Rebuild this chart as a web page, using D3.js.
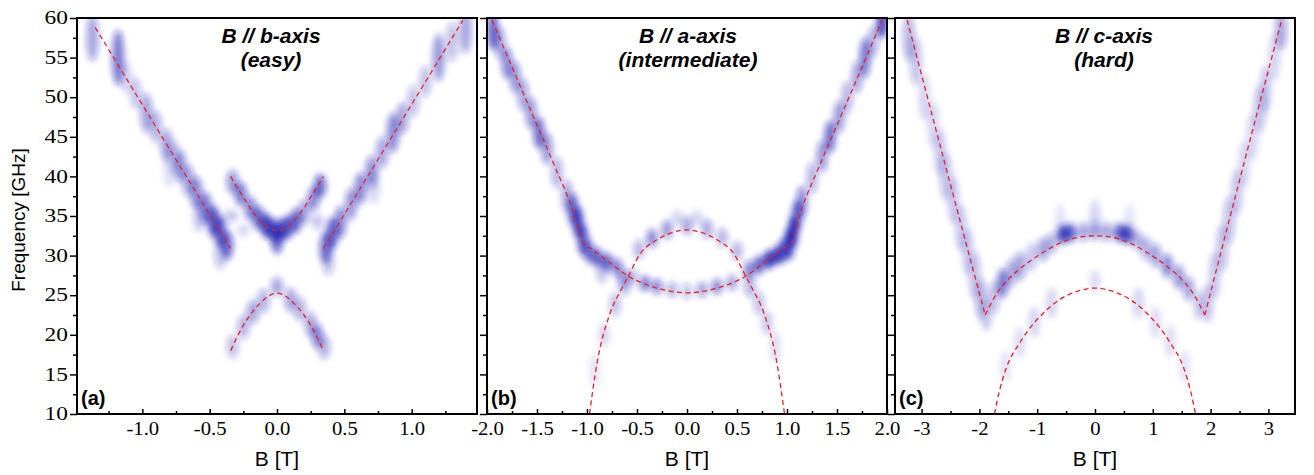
<!DOCTYPE html>
<html>
<head>
<meta charset="utf-8">
<script src="https://cdn.jsdelivr.net/npm/d3@7"></script>
<style>
  body { margin: 0; background: #fff; }
  .tick text { font-family: "Liberation Serif", "Times New Roman", serif; font-size: 18px; fill: #000; }
  .axis path.domain { display: none; }
  .axis line { stroke: #000; stroke-width: 1.5; }
</style>
</head>
<body>
<div id="chart"></div>
<script>
// ---- data ----
var freqMajor = [10, 15, 20, 25, 30, 35, 40, 45, 50, 55, 60];
var freqMinor = [12.5, 17.5, 22.5, 27.5, 32.5, 37.5, 42.5, 47.5, 52.5, 57.5];

var fieldMajorA = [-1.0, -0.5, 0.0, 0.5, 1.0];
var fieldMinorA = [-1.25, -0.75, -0.25, 0.25, 0.75, 1.25];
var fieldMajorB = [-2.0, -1.5, -1.0, -0.5, 0.0, 0.5, 1.0, 1.5, 2.0];
var fieldMinorB = [-1.75, -1.25, -0.75, -0.25, 0.25, 0.75, 1.25, 1.75];
var fieldMajorC = [-3, -2, -1, 0, 1, 2, 3];
var fieldMinorC = [-2.5, -1.5, -0.5, 0.5, 1.5, 2.5];

var panelTitles = ["B // b-axis", "B // a-axis", "B // c-axis"];
var panelSubtitles = ["(easy)", "(intermediate)", "(hard)"];
var panelLetters = ["(a)", "(b)", "(c)"];

// fitted modes, [B (T), f (GHz)]
var modeA_left  = [[-1.35, 58.8], [-0.85, 44.9], [-0.345, 30.9]];
var modeA_right = [[0.345, 30.9], [0.86, 45.2], [1.38, 59.7]];
var modeA_upper = [[-0.344, 40.0], [-0.3, 38.7], [-0.25, 37.4], [-0.2, 36.0], [-0.13, 34.5], [-0.07, 33.6], [0, 33.2],
                   [0.07, 33.6], [0.13, 34.5], [0.2, 36.0], [0.25, 37.4], [0.3, 38.7], [0.344, 40.0]];
var modeA_lower = [[-0.344, 18.0], [-0.3, 19.6], [-0.25, 21.2], [-0.2, 22.5], [-0.13, 23.9], [-0.07, 24.8], [0, 25.25],
                   [0.07, 24.8], [0.13, 23.9], [0.2, 22.5], [0.25, 21.2], [0.3, 19.6], [0.344, 18.0]];

var modeB_outer = [[-1.95, 59.7], [-1.6, 49.4], [-1.33, 41.5], [-1.15, 36.0], [-1.04, 31.6], [-0.95, 30.8], [-0.8, 29.4],
                   [-0.587, 27.4], [-0.3, 25.9], [0, 25.3], [0.3, 25.9], [0.587, 27.4], [0.8, 29.4], [0.95, 30.8],
                   [1.04, 31.6], [1.15, 36.0], [1.33, 41.5], [1.6, 49.4], [1.95, 59.7]];
var modeB_inner = [[-0.975, 10.0], [-0.9, 16.4], [-0.77, 22.7], [-0.65, 25.9], [-0.587, 27.4], [-0.47, 30.2], [-0.3, 32.0],
                   [-0.15, 32.9], [0, 33.25], [0.15, 32.9], [0.3, 32.0], [0.47, 30.2], [0.587, 27.4], [0.65, 25.9],
                   [0.77, 22.7], [0.9, 16.4], [0.975, 10.0]];

var modeC_left  = [[-3.25, 59.75], [-2.52, 39.5], [-1.9, 22.5]];
var modeC_right = [[1.9, 22.5], [2.5, 39.5], [3.23, 59.75]];
var modeC_upper = [[-1.9, 22.5], [-1.7, 25.2], [-1.5, 27.0], [-1.2, 28.9], [-0.9, 30.4], [-0.6, 31.6], [-0.3, 32.3], [0, 32.5],
                   [0.3, 32.3], [0.6, 31.6], [0.9, 30.4], [1.2, 28.9], [1.5, 27.0], [1.7, 25.2], [1.9, 22.5]];
var modeC_lower = [[-1.74, 10.0], [-1.65, 13.0], [-1.535, 15.8], [-1.3, 19.0], [-1.1, 21.1], [-0.9, 22.7], [-0.6, 24.5],
                   [-0.3, 25.5], [0, 25.9], [0.3, 25.5], [0.6, 24.5], [0.9, 22.7], [1.1, 21.1], [1.3, 19.0],
                   [1.535, 15.8], [1.65, 13.0], [1.74, 10.0]];

// absorption spots, [B (T), f (GHz), intensity, half linewidth (GHz)]
var spotsA = [
  [-1.37, 57.5, 0.35, 3], [-1.18, 55.0, 0.5, 3.5], [-1.05, 50.5, 0.2, 2], [-0.97, 48.0, 0.35, 2.5], [-0.9, 46.3, 0.3, 2],
  [-0.82, 44.0, 0.35, 2], [-0.72, 41.3, 0.4, 2], [-0.66, 39.5, 0.35, 2], [-0.6, 38.0, 0.45, 2], [-0.53, 36.0, 0.5, 2],
  [-0.47, 34.3, 0.65, 2], [-0.42, 33.0, 0.6, 2], [-0.37, 31.3, 0.55, 1.8], [-0.42, 30.3, 0.25, 2], [-0.58, 35.0, 0.2, 2],
  [-0.8, 41.5, 0.12, 3], [-1.12, 52.5, 0.15, 2], [-0.76, 42.5, 0.2, 2],
  [0.36, 31.0, 0.5, 2], [0.41, 32.8, 0.6, 2], [0.47, 34.2, 0.45, 2], [0.55, 36.5, 0.4, 2], [0.62, 38.5, 0.45, 2],
  [0.7, 40.6, 0.4, 2], [0.78, 43.0, 0.35, 2], [0.86, 45.5, 0.45, 2.5], [0.93, 47.3, 0.35, 2], [1.01, 49.5, 0.25, 2],
  [1.1, 52.0, 0.25, 2], [1.2, 55.0, 0.4, 3], [1.3, 57.0, 0.25, 2.5], [1.4, 58.5, 0.35, 3], [0.38, 29.5, 0.25, 2],
  [0.72, 39.0, 0.15, 2.5],
  [-0.33, 39.3, 0.4, 1.5], [-0.27, 37.8, 0.5, 1.5], [-0.2, 36.0, 0.45, 1.5], [-0.14, 34.8, 0.55, 1.5], [-0.08, 33.8, 0.7, 1.5],
  [-0.03, 33.2, 0.6, 1.5], [0.0, 32.0, 0.55, 1.8], [0.03, 33.2, 0.6, 1.5], [0.08, 33.6, 0.6, 1.5], [0.14, 34.4, 0.55, 1.5],
  [0.2, 35.5, 0.35, 1.5], [0.27, 37.2, 0.45, 1.5], [0.32, 38.8, 0.55, 1.5],
  [-0.34, 35.0, 0.25, 0.8], [0.3, 34.3, 0.2, 1.0], [-0.25, 33.2, 0.15, 0.8],
  [0.0, 26.1, 0.35, 1.2], [-0.33, 18.5, 0.25, 1.5], [-0.25, 21.0, 0.3, 1.5], [-0.18, 22.9, 0.35, 1.5], [-0.1, 24.3, 0.3, 1.5],
  [0.1, 24.4, 0.35, 1.5], [0.17, 23.2, 0.3, 1.5], [0.25, 21.3, 0.35, 1.5], [0.3, 19.8, 0.45, 1.5], [0.35, 18.4, 0.3, 1.5]
];
var spotsB = [
  [-1.94, 58.5, 0.6, 2.5], [-1.87, 56.8, 0.35, 2], [-1.8, 54.3, 0.45, 2], [-1.72, 52.5, 0.4, 2], [-1.64, 50.3, 0.35, 2],
  [-1.56, 48.0, 0.4, 2], [-1.48, 45.5, 0.55, 2], [-1.4, 43.5, 0.4, 2], [-1.3, 40.5, 0.3, 2], [-1.2, 37.5, 0.35, 2],
  [-1.14, 35.8, 0.6, 2], [-1.09, 34.2, 0.7, 2], [-1.04, 32.0, 0.65, 2], [-0.98, 30.5, 0.5, 1.5],
  [-0.9, 29.8, 0.6, 1.2], [-0.8, 29.2, 0.55, 1.2], [-0.7, 28.5, 0.45, 1.2], [-0.55, 27.3, 0.3, 1], [-0.42, 26.5, 0.5, 1],
  [-0.3, 26.1, 0.45, 1], [-0.15, 25.7, 0.3, 1], [0.0, 25.5, 0.25, 1], [0.15, 25.7, 0.35, 1], [0.3, 26.1, 0.45, 1],
  [0.45, 26.6, 0.35, 1], [-0.85, 28.0, 0.25, 1.5], [-0.65, 27.2, 0.2, 1.5],
  [0.62, 28.2, 0.45, 1.2], [0.72, 28.8, 0.6, 1.2], [0.82, 29.5, 0.75, 1.2], [0.9, 30.0, 0.7, 1.2], [0.96, 30.6, 0.6, 1.5],
  [1.02, 31.5, 0.7, 2], [1.06, 33.0, 0.75, 2], [1.1, 35.0, 0.6, 2], [1.15, 36.8, 0.45, 2], [1.25, 39.8, 0.3, 2],
  [1.35, 42.5, 0.4, 2], [1.43, 45.0, 0.55, 2], [1.52, 47.5, 0.4, 2], [1.6, 50.0, 0.3, 2], [1.7, 52.5, 0.35, 2],
  [1.78, 55.0, 0.5, 2.5], [1.86, 57.0, 0.3, 2], [1.95, 59.5, 0.7, 2],
  [0.0, 33.8, 0.35, 1.2], [-0.2, 33.3, 0.4, 1.2], [0.2, 33.4, 0.35, 1.2], [-0.35, 32.2, 0.45, 1.2], [0.35, 32.3, 0.3, 1.2],
  [-0.48, 30.8, 0.3, 1.2], [0.5, 30.6, 0.3, 1.2], [-0.1, 34.8, 0.15, 1], [0.1, 34.8, 0.15, 1],
  [-0.62, 26.5, 0.3, 1.5], [-0.72, 23.8, 0.25, 1.5], [-0.83, 20.0, 0.15, 1.5], [-0.92, 15.5, 0.1, 2],
  [0.63, 26.2, 0.3, 1.5], [0.72, 24.0, 0.25, 1.5], [0.8, 21.5, 0.2, 1.5], [0.88, 18.5, 0.12, 2]
];
var spotsC = [
  [-3.22, 57.5, 0.3, 3], [-3.1, 54.5, 0.25, 3], [-2.95, 50.0, 0.15, 3], [-2.8, 46.5, 0.15, 3], [-2.68, 43.0, 0.2, 3],
  [-2.58, 40.0, 0.25, 3], [-2.45, 37.0, 0.2, 3], [-2.32, 33.5, 0.2, 3], [-2.2, 30.5, 0.2, 3], [-2.08, 27.5, 0.25, 3],
  [-1.97, 24.5, 0.3, 2.5], [-1.88, 22.5, 0.2, 2],
  [-1.75, 24.7, 0.25, 2], [-1.6, 26.5, 0.5, 1.8], [-1.45, 27.8, 0.3, 1.8], [-1.3, 28.7, 0.35, 1.8], [-1.1, 29.8, 0.2, 1.8],
  [-0.9, 30.8, 0.35, 1.5], [-0.75, 31.6, 0.3, 1.3],
  [-0.55, 32.7, 0.7, 1.2], [-0.42, 32.9, 0.6, 1.2], [-0.2, 33.0, 0.35, 1.2], [0.0, 33.1, 0.3, 1.2], [0.2, 33.0, 0.35, 1.2],
  [0.42, 32.9, 0.6, 1.2], [0.55, 32.7, 0.7, 1.2], [0.72, 32.0, 0.3, 1.3],
  [0.0, 34.6, 0.15, 2.5], [-0.6, 34.0, 0.1, 2.5], [0.6, 34.0, 0.1, 2.5],
  [0.88, 30.9, 0.3, 1.5], [1.05, 30.0, 0.35, 1.5], [1.25, 28.7, 0.45, 1.5], [1.45, 27.3, 0.4, 1.5], [1.62, 25.8, 0.35, 1.5],
  [1.8, 23.7, 0.2, 1.8],
  [1.95, 24.0, 0.2, 2.5], [2.07, 27.5, 0.2, 3], [2.2, 31.0, 0.25, 3], [2.32, 34.5, 0.25, 3], [2.45, 38.0, 0.2, 3],
  [2.58, 41.5, 0.15, 3], [2.72, 45.0, 0.15, 3], [2.85, 48.5, 0.25, 3], [2.95, 51.0, 0.2, 3], [3.1, 55.0, 0.15, 3],
  [3.22, 58.5, 0.35, 2.5],
  [0.0, 26.7, 0.12, 1.5], [-0.75, 24.0, 0.15, 2], [0.75, 24.0, 0.15, 2], [-1.05, 21.6, 0.15, 2], [1.05, 21.6, 0.12, 2],
  [-1.3, 19.0, 0.12, 2], [1.3, 19.2, 0.12, 2], [-1.55, 16.0, 0.1, 2], [1.55, 16.0, 0.1, 2]
];

// ---- layout ----
var W = 1314, H = 475;
var plotTop = 18, plotH = 396, plotW = 400;

// plain hyphen for negative tick labels, as in the figure
var fmt1 = function(d) { return d3.format(".1f")(d).replace("\u2212", "-"); };
var fmt0 = function(d) { return d3.format("d")(d).replace("\u2212", "-"); };

var panels = [
  { left: 77,  domain: [-1.485, 1.485], major: fieldMajorA, minor: fieldMinorA, fmt: fmt1,
    spots: spotsA, halfB: 0.045, modes: [modeA_left, modeA_right, modeA_upper, modeA_lower], titleDx: -6 },
  { left: 487, domain: [-2, 2], major: fieldMajorB, minor: fieldMinorB, fmt: fmt1,
    spots: spotsB, halfB: 0.055, modes: [modeB_outer, modeB_inner], titleDx: 1 },
  { left: 895, domain: [-3.46, 3.46], major: fieldMajorC, minor: fieldMinorC, fmt: fmt0,
    spots: spotsC, halfB: 0.1, modes: [modeC_left, modeC_right, modeC_upper, modeC_lower], titleDx: 9 }
];

var svg = d3.select("#chart").append("svg")
    .attr("width", W)
    .attr("height", H);

var defs = svg.append("defs");
defs.append("filter")
    .attr("id", "smear")
    .attr("x", "-20%").attr("y", "-20%").attr("width", "140%").attr("height", "140%")
  .append("feGaussianBlur")
    .attr("stdDeviation", "3 3.2");

var y = d3.scaleLinear().domain([10, 60]).range([plotTop + plotH, plotTop]);

var line = d3.line().curve(d3.curveMonotoneX);

panels.forEach(function(p, i) {
    var x = d3.scaleLinear().domain(p.domain).range([p.left, p.left + plotW]);

    defs.append("clipPath").attr("id", "clip" + i)
      .append("rect")
        .attr("x", p.left).attr("y", plotTop)
        .attr("width", plotW).attr("height", plotH);

    var g = svg.append("g").attr("clip-path", "url(#clip" + i + ")");

    // absorption map
    g.append("g")
        .attr("filter", "url(#smear)")
      .selectAll("ellipse")
      .data(p.spots)
      .enter().append("ellipse")
        .attr("cx", function(d) { return x(d[0]); })
        .attr("cy", function(d) { return y(d[1]); })
        .attr("rx", function(d) { return x(d[0] + p.halfB) - x(d[0]); })
        .attr("ry", function(d) { return y(d[1] - d[3]) - y(d[1]); })
        .style("fill", "#1818b0")
        .style("fill-opacity", function(d) { return Math.min(1, d[2] * 1.1); });

    // fitted modes
    line.x(function(d) { return x(d[0]); }).y(function(d) { return y(d[1]); });
    g.selectAll("path.mode")
      .data(p.modes)
      .enter().append("path")
        .attr("class", "mode")
        .attr("d", line)
        .style("fill", "none")
        .style("stroke", "#f01e24")
        .style("stroke-width", 1.3)
        .style("stroke-dasharray", "5,3.5");

    // x axis, ticks pointing in
    var xg = svg.append("g")
        .attr("class", "axis")
        .attr("transform", "translate(0," + (plotTop + plotH) + ")");
    xg.call(d3.axisBottom(x).tickValues(p.major).tickFormat(p.fmt).tickSizeInner(-5).tickSizeOuter(0).tickPadding(8));
    xg.selectAll(".tick text").attr("transform", "scale(1.15,1)");
    svg.append("g")
        .attr("class", "axis")
        .attr("transform", "translate(0," + (plotTop + plotH) + ")")
        .call(d3.axisBottom(x).tickValues(p.minor).tickFormat("").tickSizeInner(-3).tickSizeOuter(0));

    // y axis, ticks pointing out
    var yg = svg.append("g")
        .attr("class", "axis")
        .attr("transform", "translate(" + p.left + ",0)");
    yg.call(d3.axisLeft(y).tickValues(freqMajor).tickSizeInner(7).tickSizeOuter(0).tickPadding(0)
        .tickFormat(i === 0 ? fmt0 : ""));
    yg.selectAll(".tick text").attr("transform", "scale(1.3,1)");
    svg.append("g")
        .attr("class", "axis")
        .attr("transform", "translate(" + p.left + ",0)")
        .call(d3.axisLeft(y).tickValues(freqMinor).tickFormat("").tickSizeInner(4).tickSizeOuter(0));

    // frame
    svg.append("rect")
        .attr("x", p.left).attr("y", plotTop)
        .attr("width", plotW).attr("height", plotH)
        .style("fill", "none")
        .style("stroke", "#000")
        .style("stroke-width", 2);

    var cx = p.left + plotW / 2;

    // titles
    var t = svg.append("text")
        .attr("x", cx + p.titleDx)
        .attr("text-anchor", "middle")
        .style("font-family", "Liberation Sans, Arial, sans-serif")
        .style("font-size", "21px")
        .style("font-weight", "bold")
        .style("font-style", "italic");
    t.append("tspan").attr("x", cx + p.titleDx).attr("y", 43).text(panelTitles[i]);
    t.append("tspan").attr("x", cx + p.titleDx).attr("y", 67).text(panelSubtitles[i]);

    svg.append("text")
        .attr("x", p.left + 4)
        .attr("y", plotTop + plotH - 9)
        .style("font-family", "Liberation Sans, Arial, sans-serif")
        .style("font-size", "20px")
        .style("font-weight", "bold")
        .text(panelLetters[i]);

    svg.append("text")
        .attr("x", cx)
        .attr("y", 466)
        .attr("text-anchor", "middle")
        .style("font-family", "Liberation Sans, Arial, sans-serif")
        .style("font-size", "21px")
        .text("B [T]");
});

svg.append("text")
    .attr("transform", "translate(25," + (plotTop + plotH / 2 + 4) + ") rotate(-90)")
    .attr("text-anchor", "middle")
    .style("font-family", "Liberation Sans, Arial, sans-serif")
    .style("font-size", "19px")
    .text("Frequency [GHz]");
</script>
</body>
</html>
